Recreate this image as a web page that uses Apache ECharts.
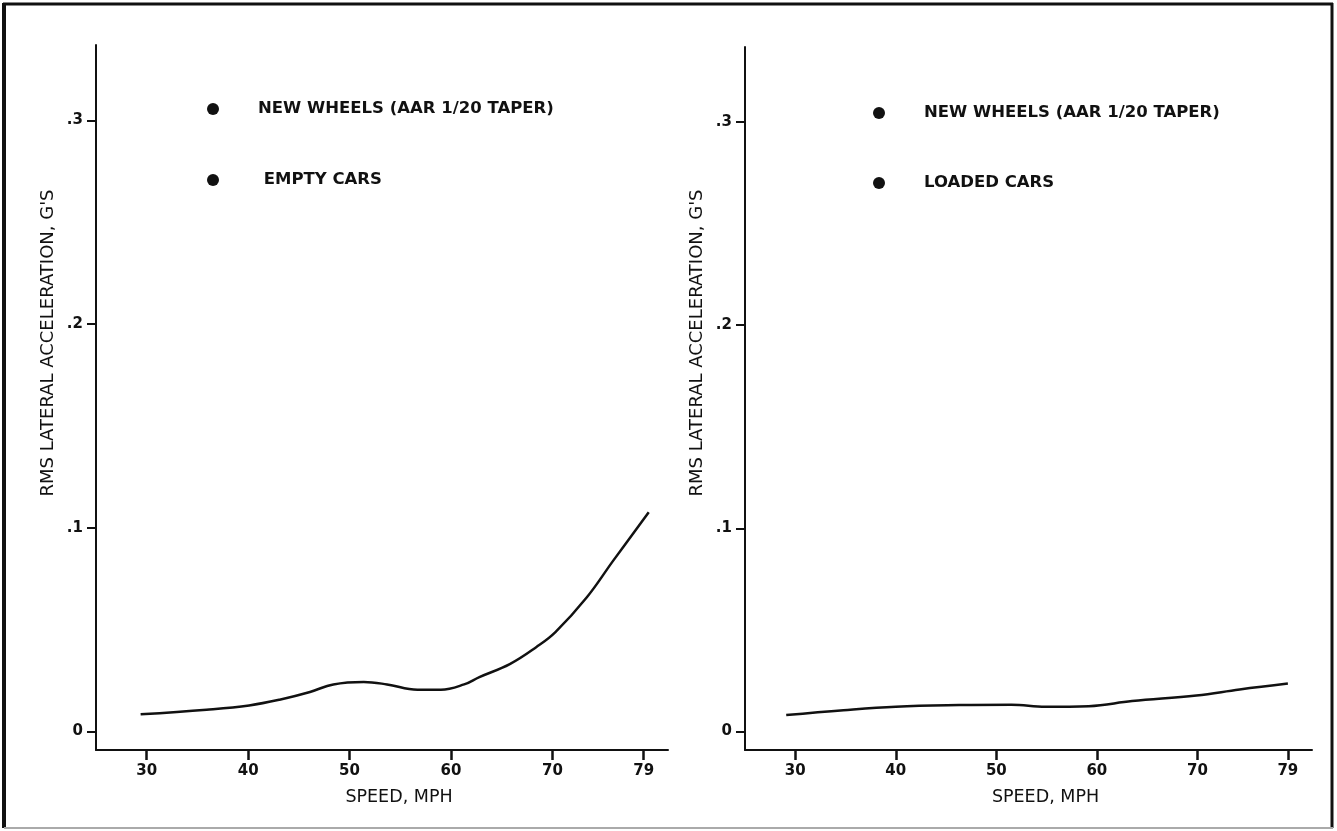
<!DOCTYPE html>
<html>
<head>
<meta charset="utf-8">
<script src="https://cdn.jsdelivr.net/npm/echarts@6/dist/echarts.min.js"></script>
<style>
  html, body { margin: 0; padding: 0; background: #fff; }
  #main { width: 1337px; height: 831px; }
</style>
</head>
<body>
<div id="main"></div>
<script>
// speed ticks shown on both x axes
const speedTicks = [30, 40, 50, 60, 70, 79];
const rmsTicks = [0, 0.1, 0.2, 0.3];

// empty cars (left panel)
const emptySpeed = [29.4, 35.9, 40.1, 43.1, 46.1, 48.4, 51.4, 53.7, 56.7, 59.0, 61.3, 62.8, 65.8, 68.4, 70.3, 73.4, 76.0, 79.5];
const emptyRms = [0.0083, 0.0106, 0.0127, 0.0155, 0.0193, 0.0230, 0.0242, 0.0230, 0.0204, 0.0204, 0.0230, 0.0266, 0.0330, 0.0413, 0.0487, 0.0658, 0.0838, 0.1075];

// loaded cars (right panel)
const loadedSpeed = [29.1, 34.8, 40.0, 46.3, 51.5, 54.9, 59.2, 63.5, 69.9, 74.2, 79.0];
const loadedRms = [0.0080, 0.0104, 0.0121, 0.0129, 0.0131, 0.0121, 0.0124, 0.0149, 0.0176, 0.0206, 0.0235];

const noteLine1 = "NEW WHEELS (AAR 1/20 TAPER)";
const noteLeft = "EMPTY CARS";
const noteRight = "LOADED CARS";
const yTitle = "RMS LATERAL ACCELERATION, G'S";
const xTitle = "SPEED, MPH";

const font = "DejaVu Sans";
const ink = "#111";

const chart = echarts.init(document.getElementById("main"));

const xAxisFor = (gridIndex) => ({
  type: "value",
  gridIndex: gridIndex,
  min: 25,
  max: 81.4,
  name: xTitle,
  nameLocation: "middle",
  nameGap: 38,
  nameTextStyle: { fontFamily: font, fontSize: 17.5, color: ink, padding: [0, 0, 0, 34] },
  axisLine: { onZero: false, lineStyle: { color: ink, width: 2 } },
  axisTick: { customValues: speedTicks, length: 10, lineStyle: { color: ink, width: 2.5 } },
  axisLabel: {
    customValues: speedTicks,
    margin: 14,
    fontFamily: font,
    fontWeight: "bold",
    fontSize: 15,
    color: ink,
  },
  splitLine: { show: false },
});

const yAxisFor = (gridIndex) => ({
  type: "value",
  gridIndex: gridIndex,
  min: -0.0092,
  max: 0.337,
  axisLine: { show: true, onZero: false, lineStyle: { color: ink, width: 2 } },
  axisTick: { show: true, customValues: rmsTicks, length: 9, lineStyle: { color: ink, width: 2 } },
  axisLabel: {
    customValues: rmsTicks,
    margin: 13,
    fontFamily: font,
    fontWeight: "bold",
    fontSize: 15,
    color: ink,
    formatter: (v) => (v === 0 ? "0" : String(Math.round(v * 10) / 10).replace(/^0/, "")),
  },
  splitLine: { show: false },
});

const lineSeries = (idx, xs, ys) => ({
  type: "line",
  xAxisIndex: idx,
  yAxisIndex: idx,
  smooth: 0.4,
  showSymbol: false,
  lineStyle: { color: ink, width: 2.5 },
  data: xs.map((x, i) => [x, ys[i]]),
});

const note = (x, y, text) => ({
  type: "group",
  children: [
    { type: "circle", shape: { cx: x, cy: y, r: 6 }, style: { fill: ink } },
    {
      type: "text",
      x: x + 45,
      y: y,
      style: { text: text, fontFamily: font, fontWeight: "bold", fontSize: 16.5, fill: ink, verticalAlign: "middle" },
    },
  ],
});

const yName = (x) => ({
  type: "text",
  x: x,
  y: 343,
  rotation: Math.PI / 2,
  style: { text: yTitle, fontFamily: font, fontSize: 18, fill: ink, align: "center", verticalAlign: "middle" },
});

chart.setOption({
  animation: false,
  grid: [
    { left: 96, top: 45, width: 572, height: 705 },
    { left: 745, top: 47, width: 567, height: 703 },
  ],
  xAxis: [xAxisFor(0), xAxisFor(1)],
  yAxis: [yAxisFor(0), yAxisFor(1)],
  series: [lineSeries(0, emptySpeed, emptyRms), lineSeries(1, loadedSpeed, loadedRms)],
  graphic: [
    // page frame
    { type: "line", shape: { x1: 3, y1: 4, x2: 1333, y2: 4 }, style: { stroke: ink, lineWidth: 3 } },
    { type: "line", shape: { x1: 4, y1: 3, x2: 4, y2: 828 }, style: { stroke: ink, lineWidth: 4 } },
    { type: "line", shape: { x1: 1332, y1: 3, x2: 1332, y2: 828 }, style: { stroke: ink, lineWidth: 3 } },
    { type: "line", shape: { x1: 4, y1: 828, x2: 1333, y2: 828 }, style: { stroke: "#aaa", lineWidth: 2 } },
    note(213, 109, noteLine1),
    note(213, 180, " " + noteLeft),
    note(879, 113, noteLine1),
    note(879, 183, noteRight),
    yName(48),
    yName(697),
  ],
});
</script>
</body>
</html>
